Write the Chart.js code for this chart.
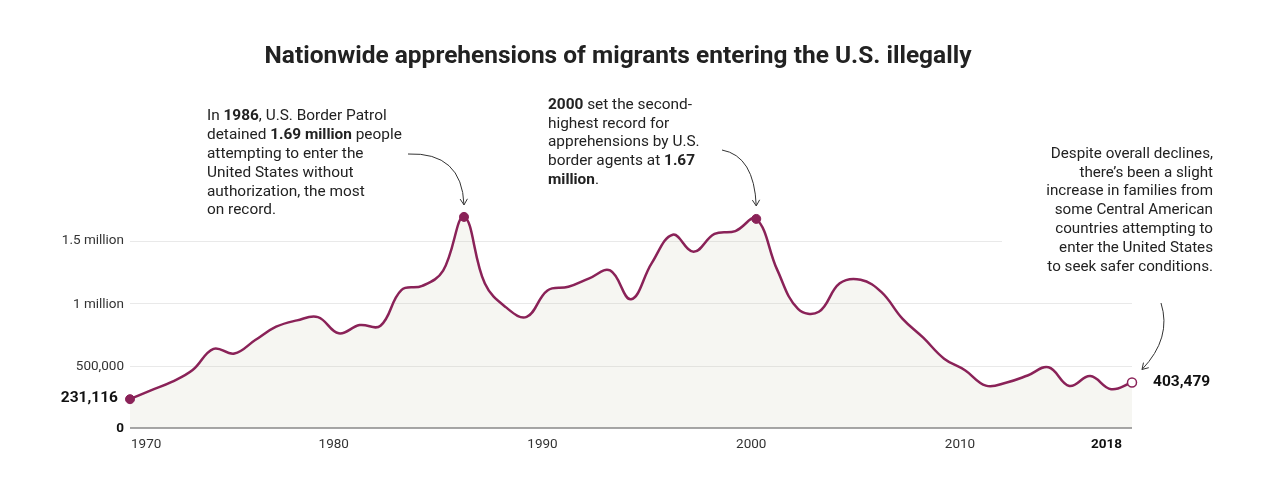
<!DOCTYPE html>
<html>
<head>
<meta charset="utf-8">
<script src="https://cdn.jsdelivr.net/npm/chart.js@4.4.1/dist/chart.umd.min.js"></script>
<style>
html,body{margin:0;padding:0;background:#fff}
#wrap{width:1285px;height:492px}
</style>
</head>
<body>
<div id="wrap"><canvas id="chart" width="1285" height="492"></canvas></div>
<script>

// data

const years = [1970,1971,1972,1973,1974,1975,1976,1977,1978,1979,
1980,1981,1982,1983,1984,1985,1986,1987,1988,1989,
1990,1991,1992,1993,1994,1995,1996,1997,1998,1999,
2000,2001,2002,2003,2004,2005,2006,2007,2008,2009,
2010,2011,2012,2013,2014,2015,2016,2017,2018]

const apprehensions = [231116,302000,370000,465000,635000,597000,705000,812000,863000,889000,
759000,825000,820000,1106000,1139000,1262000,1692544,1158000,969000,891000,
1103000,1132000,1200000,1263000,1032000,1324000,1550000,1413000,1556000,1579000,
1676438,1270000,955000,932000,1160000,1189000,1089000,877000,724000,556000,
463000,340000,365000,421000,487000,337000,416000,311000,365000]

const endLabels = ['231,116','403,479']
const yTicks = [0,500000,1000000,1500000]
const yTickLabels = ['0','500,000','1 million','1.5 million']
const xTicks = [1970,1980,1990,2000,2010,2018]
const markedYears = [1970,1986,2000,2018]

const maroon = '#8a2258'
const textColor = '#222'
const sans = 'Roboto, "Liberation Sans", sans-serif'


// draws lines made of [text,bold] pieces

function richText(ctx,lines,x,y,lh,align,size){
ctx.textBaseline='middle'
ctx.textAlign='left'
lines.forEach((line,i)=>{
let w=0
line.forEach(p=>{
ctx.font=(p[1]?'bold ':'')+size+'px '+sans
w+=ctx.measureText(p[0]).width
})
let cx = align==='right' ? x-w : x
line.forEach(p=>{
ctx.font=(p[1]?'bold ':'')+size+'px '+sans
ctx.fillText(p[0],cx,y+i*lh)
cx+=ctx.measureText(p[0]).width
})
})
}

function arrow(ctx,x0,y0,cx,cy,x1,y1){
ctx.save()
ctx.strokeStyle='#333'
ctx.lineWidth=1
ctx.beginPath()
ctx.moveTo(x0,y0)
ctx.quadraticCurveTo(cx,cy,x1,y1)
ctx.stroke()
const a=Math.atan2(y1-cy,x1-cx)
const h=7
ctx.beginPath()
ctx.moveTo(x1+h*Math.cos(a+Math.PI-0.55),y1+h*Math.sin(a+Math.PI-0.55))
ctx.lineTo(x1,y1)
ctx.lineTo(x1+h*Math.cos(a+Math.PI+0.55),y1+h*Math.sin(a+Math.PI+0.55))
ctx.stroke()
ctx.restore()
}


// gridlines under the line, labels and notes on top

const decorations = {
id:'decorations',

beforeDatasetsDraw(chart){
const {ctx,chartArea,scales:{y}} = chart
ctx.save()
ctx.strokeStyle='#e9e9e9'
ctx.lineWidth=1
yTicks.forEach(v=>{
if(v===0) return
const py=Math.round(y.getPixelForValue(v))+0.5
const right = v===1500000 ? 1002 : chartArea.right
ctx.beginPath()
ctx.moveTo(chartArea.left,py)
ctx.lineTo(right,py)
ctx.stroke()
})
ctx.restore()
},

afterDatasetsDraw(chart){
const {ctx,chartArea,scales:{x,y}} = chart
const meta = chart.getDatasetMeta(0)
ctx.save()

// baseline
ctx.strokeStyle='#888'
ctx.lineWidth=1.5
ctx.beginPath()
ctx.moveTo(chartArea.left,y.getPixelForValue(0))
ctx.lineTo(chartArea.right,y.getPixelForValue(0))
ctx.stroke()

// y labels
ctx.textAlign='right'
ctx.textBaseline='middle'
yTicks.forEach((v,i)=>{
ctx.font=(v===0?'bold ':'')+'13.5px '+sans
ctx.fillStyle=v===0?'#111':'#333'
ctx.fillText(yTickLabels[i],124,y.getPixelForValue(v)+(v===1500000?0:1))
})

// x labels
xTicks.forEach((yr,i)=>{
const px=x.getPixelForValue(years.indexOf(yr))
const last = i===xTicks.length-1
ctx.font=(last?'bold ':'')+'13.5px '+sans
ctx.fillStyle=last?'#111':'#333'
if(i===0){ctx.textAlign='left';ctx.fillText(String(yr),px+1,445)}
else if(last){ctx.textAlign='right';ctx.fillText(String(yr),px-10,445)}
else{ctx.textAlign='center';ctx.fillText(String(yr),px-5,445)}
})

// end values
const first=meta.data[0], lastPt=meta.data[meta.data.length-1]
ctx.fillStyle='#111'
ctx.font='bold 15.5px '+sans
ctx.textAlign='right'
ctx.fillText(endLabels[0],first.x-12,first.y-1)
ctx.textAlign='left'
ctx.fillText(endLabels[1],lastPt.x+21,lastPt.y)

// title, squeezed to the reference width
const title='Nationwide apprehensions of migrants entering the U.S. illegally'
ctx.fillStyle='#222'
ctx.font='bold 23px '+sans
const tw=ctx.measureText(title).width
ctx.save()
ctx.translate(618,57)
ctx.scale(707/tw,1)
ctx.textAlign='center'
ctx.fillText(title,0,0)
ctx.restore()

// notes
ctx.fillStyle=textColor
richText(ctx,[
[['In ',0],['1986',1],[', U.S. Border Patrol',0]],
[['detained ',0],['1.69 million',1],[' people',0]],
[['attempting to enter the',0]],
[['United States without',0]],
[['authorization, the most',0]],
[['on record.',0]]
],207,116.5,18.8,'left',15.4)

richText(ctx,[
[['2000',1],[' set the second-',0]],
[['highest record for',0]],
[['apprehensions by U.S.',0]],
[['border agents at ',0],['1.67',1]],
[['million',1],['.',0]]
],548,105,18.8,'left',15.4)

richText(ctx,[
[['Despite overall declines,',0]],
[['there\u2019s been a slight',0]],
[['increase in families from',0]],
[['some Central American',0]],
[['countries attempting to',0]],
[['enter the United States',0]],
[['to seek safer conditions.',0]]
],1213,154,18.8,'right',15.2)

const p86=meta.data[years.indexOf(1986)]
const p00=meta.data[years.indexOf(2000)]
arrow(ctx,408,154,p86.x-2,152,p86.x,p86.y-12)
arrow(ctx,722,150,p00.x-2,156,p00.x,p00.y-13)
arrow(ctx,1161,303,1172,338,lastPt.x+10,lastPt.y-13)

ctx.restore()
}
}


const chart = new Chart(
document.getElementById('chart'),
{
type:'line',
data:{
labels:years,
datasets:[{
data:apprehensions,
borderColor:maroon,
borderWidth:2.5,
backgroundColor:'rgba(200,200,180,0.17)',
fill:'origin',
tension:0.4,
clip:false,
pointRadius:c=>markedYears.includes(years[c.dataIndex])?4.5:0,
pointBackgroundColor:c=>c.dataIndex===years.length-1?'#fff':maroon,
pointBorderColor:maroon,
pointBorderWidth:c=>c.dataIndex===years.length-1?1.5:1,
pointHoverRadius:0
}]
},
options:{
responsive:false,
animation:false,
events:[],
layout:{padding:{left:130,right:153,top:203.5,bottom:64}},
scales:{
x:{display:false},
y:{display:false,min:0,max:1800000}
},
plugins:{legend:{display:false},tooltip:{enabled:false}}
},
plugins:[decorations]
}
)

</script>
</body>
</html>
